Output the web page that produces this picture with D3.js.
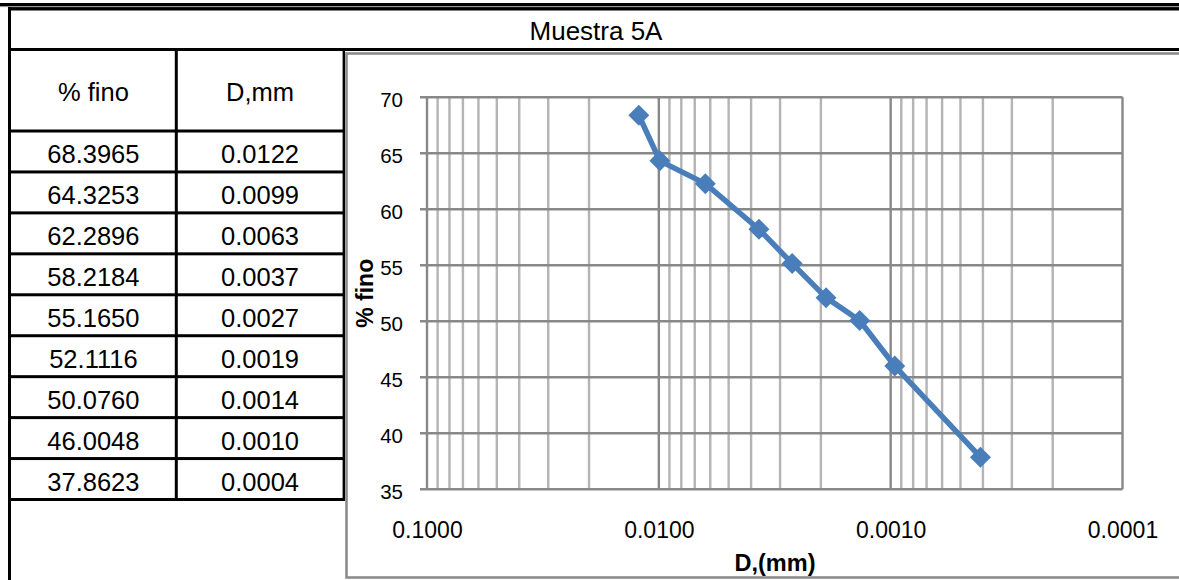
<!DOCTYPE html>
<html>
<head>
<meta charset="utf-8">
<script src="https://cdn.jsdelivr.net/npm/d3@7"></script>
<style>
  html, body { margin: 0; padding: 0; background: #ffffff; }
  svg { display: block; font-family: "Liberation Sans", Arial, sans-serif; }
</style>
</head>
<body>
<svg id="chart" width="1179" height="580"></svg>
<script>
// ---- data ----
const title = "Muestra 5A";
const headers = ["% fino", "D,mm"];
const fino = [68.3965, 64.3253, 62.2896, 58.2184, 55.1650, 52.1116, 50.0760, 46.0048, 37.8623];
const dLabels = ["0.0122", "0.0099", "0.0063", "0.0037", "0.0027", "0.0019", "0.0014", "0.0010", "0.0004"];
const dPlot = [0.0122, 0.0099, 0.0063, 0.0037, 0.00266, 0.0019, 0.00136, 0.00096, 0.00041];
const xTicks = [0.1, 0.01, 0.001, 0.0001];
const yTicks = [35, 40, 45, 50, 55, 60, 65, 70];
const xTitle = "D,(mm)";
const yTitle = "% fino";

const svg = d3.select("#chart");
const W = 1179, H = 580;

// ---- frame / table ----
const black = "#000";
const frame = svg.append("g");
frame.append("rect").attr("x", 0).attr("y", 3).attr("width", W).attr("height", 3.2).attr("fill", black);
frame.append("rect").attr("x", 0).attr("y", 6.2).attr("width", W).attr("height", 0.9).attr("fill", "#8a8a8a");
frame.append("rect").attr("x", 8).attr("y", 7.1).attr("width", W - 8).attr("height", 3.4).attr("fill", black);
frame.append("rect").attr("x", 8).attr("y", 7).attr("width", 3).attr("height", H - 7).attr("fill", black);
frame.append("rect").attr("x", 8).attr("y", 48).attr("width", W - 8).attr("height", 3).attr("fill", black);

frame.append("text").attr("x", 596).attr("y", 40).attr("text-anchor", "middle")
  .attr("font-size", 26).attr("fill", "#000").text(title);

// chart box
frame.append("rect").attr("x", 346.5).attr("y", 53.5).attr("width", 900).attr("height", 577.5 - 53.5)
  .attr("fill", "none").attr("stroke", "#8c8c8c").attr("stroke-width", 2.6);

const headTop = 51, headBottom = 131, rowH = (499.5 - 131) / fino.length;
const colX = [10, 176.3, 343.8];
const colCenters = [93.4, 260];
const rowLines = d3.range(fino.length + 1).map(i => headBottom + i * rowH);
frame.selectAll("rect.rowline").data(rowLines).join("rect").attr("class", "rowline")
  .attr("x", 8).attr("y", d => d - 1.5).attr("width", 337).attr("height", 3).attr("fill", black);
frame.append("rect").attr("x", colX[1] - 1.5).attr("y", headTop).attr("width", 3)
  .attr("height", rowLines[rowLines.length - 1] - headTop).attr("fill", black);
frame.append("rect").attr("x", colX[2] - 1.2).attr("y", headTop).attr("width", 2.4)
  .attr("height", rowLines[rowLines.length - 1] - headTop).attr("fill", black);

frame.selectAll("text.head").data(headers).join("text").attr("class", "head")
  .attr("x", (d, i) => colCenters[i]).attr("y", 101).attr("text-anchor", "middle")
  .attr("font-size", 25.5).text(d => d);
frame.selectAll("text.cf").data(fino).join("text").attr("class", "cf")
  .attr("x", colCenters[0]).attr("y", (d, i) => headBottom + i * rowH + 32).attr("text-anchor", "middle")
  .attr("font-size", 25.5).text(d => d.toFixed(4));
frame.selectAll("text.cd").data(dLabels).join("text").attr("class", "cd")
  .attr("x", colCenters[1]).attr("y", (d, i) => headBottom + i * rowH + 32).attr("text-anchor", "middle")
  .attr("font-size", 25.5).text(d => d);

// ---- chart ----
const x = d3.scaleLog().domain([0.1, 0.0001]).range([427, 1122.5]);
const y = d3.scaleLinear().domain([35, 70]).range([489.3, 97.3]);

const minorX = [];
[0.01, 0.001, 0.0001].forEach(base => { for (let k = 2; k <= 9; k++) minorX.push(base * k); });

const plot = svg.append("g");
plot.selectAll("line.minor").data(minorX).join("line").attr("class", "minor")
  .attr("x1", d => x(d)).attr("x2", d => x(d)).attr("y1", y(35)).attr("y2", y(70))
  .attr("stroke", "#b4b4b4").attr("stroke-width", 2.4);
plot.selectAll("line.hgrid").data(yTicks).join("line").attr("class", "hgrid")
  .attr("x1", 420).attr("x2", x(0.0001)).attr("y1", d => y(d)).attr("y2", d => y(d))
  .attr("stroke", "#888888").attr("stroke-width", 2.4);
plot.selectAll("line.major").data(xTicks).join("line").attr("class", "major")
  .attr("x1", d => x(d)).attr("x2", d => x(d)).attr("y1", y(35)).attr("y2", y(70))
  .attr("stroke", "#888888").attr("stroke-width", 2.4);

// axes (labels)
const yAxis = svg.append("g").attr("transform", "translate(427,0)")
  .call(d3.axisLeft(y).tickValues(yTicks).tickSize(0).tickPadding(24).tickFormat(d3.format("d")));
yAxis.select(".domain").remove();
yAxis.selectAll("text").attr("font-size", 20.5).attr("fill", "#000")
  .attr("font-family", "'Liberation Sans', Arial, sans-serif").attr("dy", "0.45em");

const xAxis = svg.append("g").attr("transform", `translate(0,${y(35)})`)
  .call(d3.axisBottom(x).tickValues(xTicks).tickSize(0).tickPadding(49).tickFormat(d3.format(".4f")));
xAxis.select(".domain").remove();
xAxis.selectAll("text").attr("font-size", 23).attr("fill", "#000")
  .attr("font-family", "'Liberation Sans', Arial, sans-serif").attr("dy", "0");

svg.append("text").attr("x", 775).attr("y", 571).attr("text-anchor", "middle")
  .attr("font-size", 23.5).attr("font-weight", "bold").text(xTitle);
svg.append("text").attr("transform", `translate(373,${(y(35) + y(70)) / 2}) rotate(-90)`)
  .attr("text-anchor", "middle").attr("font-size", 23).attr("font-weight", "bold").text(yTitle);

// series
const pts = fino.map((v, i) => ({ d: dPlot[i], f: v }));
const blue = "#4a7ebb";
svg.append("path").datum(pts)
  .attr("d", d3.line().x(p => x(p.d)).y(p => y(p.f)))
  .attr("fill", "none").attr("stroke", blue).attr("stroke-width", 5.5).attr("stroke-linejoin", "round");
svg.selectAll("path.mk").data(pts).join("path").attr("class", "mk")
  .attr("d", d3.symbol(d3.symbolSquare, 220))
  .attr("transform", p => `translate(${x(p.d)},${y(p.f)}) rotate(45)`)
  .attr("fill", blue);
</script>
</body>
</html>
